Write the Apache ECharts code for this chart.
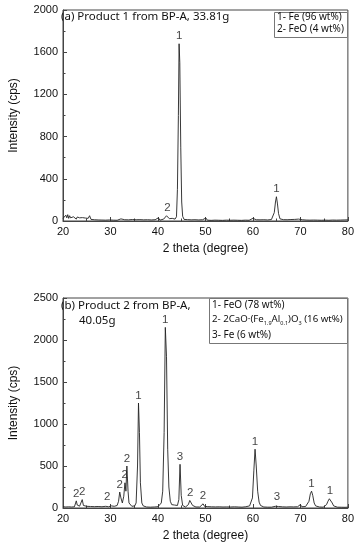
<!DOCTYPE html>
<html><head><meta charset="utf-8">
<script src="https://cdn.jsdelivr.net/npm/echarts@6/dist/echarts.min.js"></script>
<style>html,body{margin:0;padding:0;background:#fff}#c{width:357px;height:550px}</style>
</head><body><div id="c"></div>
<script>
// Product 1 from BP-A (2 theta, intensity cps)
const product1 = [[20,25],[20.2,40],[20.4,20],[20.6,55],[20.8,30],[21,60],[21.2,25],[21.4,50],[21.6,30],[21.8,45],[22,20],[22.2,40],[22.4,25],[22.6,35],[22.8,18],[23,38],[23.2,20],[23.5,30],[23.8,15],[24.1,32],[24.4,18],[24.7,28],[25,14],[25.3,25],[25.6,50],[25.9,15],[26.2,28],[26.6,12],[27,22],[27.4,10],[27.8,18],[28.2,9],[28.6,16],[29,8],[29.4,14],[29.8,10],[30.2,16],[30.6,8],[31,13],[31.4,7],[31.8,15],[32.2,20],[32.6,9],[33,12],[33.4,6],[33.8,11],[34.2,8],[34.6,14],[35,7],[35.4,12],[35.8,9],[36.2,13],[36.6,6],[37,11],[37.4,8],[37.8,12],[38.2,6],[38.6,10],[39,7],[39.4,12],[39.8,9],[40.1,30],[40.4,8],[40.8,12],[41.2,18],[41.5,35],[41.8,50],[42.1,42],[42.4,22],[42.7,15],[43,25],[43.3,38],[43.6,18],[43.9,40],[44.1,300],[44.3,1000],[44.45,1680],[44.6,1500],[44.8,700],[45,180],[45.2,45],[45.5,15],[45.8,10],[46.2,13],[46.6,7],[47,11],[47.4,8],[47.8,12],[48.2,6],[48.6,10],[49,8],[49.4,12],[49.8,7],[50.1,28],[50.4,8],[50.8,11],[51.2,6],[51.6,10],[52,8],[52.4,12],[52.8,7],[53.2,10],[53.6,6],[54,11],[54.4,8],[54.8,12],[55.2,7],[55.6,10],[56,8],[56.4,13],[56.8,7],[57.2,10],[57.6,6],[58,12],[58.4,8],[58.8,11],[59.2,7],[59.6,14],[60,25],[60.3,9],[60.7,12],[61.1,8],[61.5,11],[61.9,7],[62.3,12],[62.7,8],[63.1,10],[63.5,7],[63.9,14],[64.2,25],[64.5,80],[64.75,180],[64.95,230],[65.15,170],[65.4,70],[65.7,20],[66,10],[66.4,13],[66.8,8],[67.2,12],[67.6,7],[68,14],[68.4,9],[68.8,15],[69.2,10],[69.6,18],[70,22],[70.4,12],[70.8,16],[71.2,9],[71.6,13],[72,8],[72.4,12],[72.8,9],[73.2,13],[73.6,8],[74,11],[74.4,7],[74.8,12],[75.2,8],[75.6,11],[76,7],[76.4,13],[76.8,9],[77.2,12],[77.6,8],[78,14],[78.4,9],[78.8,16],[79.2,10],[79.6,14],[80,11]];
// Product 2 from BP-A
const product2 = [[20,15],[20.3,25],[20.6,12],[20.9,22],[21.2,14],[21.5,24],[21.8,12],[22.1,20],[22.4,14],[22.6,30],[22.8,85],[23,35],[23.2,15],[23.5,22],[23.8,30],[24.05,100],[24.3,30],[24.6,15],[25,20],[25.4,12],[25.8,18],[26.2,10],[26.6,16],[27,12],[27.4,18],[27.8,10],[28.2,15],[28.6,12],[29,20],[29.3,40],[29.6,15],[29.9,18],[30.2,25],[30.5,12],[30.8,20],[31.1,15],[31.4,30],[31.7,80],[31.95,190],[32.2,120],[32.5,60],[32.8,140],[33.05,300],[33.25,200],[33.45,500],[33.7,200],[33.9,60],[34.2,40],[34.5,20],[34.8,15],[35.1,25],[35.4,60],[35.7,500],[35.9,1250],[36.1,900],[36.3,300],[36.6,60],[36.9,25],[37.2,15],[37.6,12],[38,18],[38.4,10],[38.8,15],[39.2,12],[39.6,20],[40,15],[40.4,30],[40.7,60],[41,200],[41.3,900],[41.55,2150],[41.8,1800],[42.05,700],[42.3,250],[42.6,80],[42.9,40],[43.2,25],[43.5,35],[43.8,50],[44.1,30],[44.4,100],[44.65,520],[44.9,150],[45.2,30],[45.5,15],[45.8,12],[46.1,20],[46.4,40],[46.7,90],[47,80],[47.3,30],[47.6,15],[48,12],[48.4,18],[48.8,12],[49.2,25],[49.5,50],[49.8,20],[50.1,12],[50.5,16],[50.9,10],[51.3,14],[51.7,9],[52.1,13],[52.5,10],[52.9,14],[53.3,9],[53.7,12],[54.1,10],[54.5,13],[54.9,9],[55.3,12],[55.7,10],[56.1,14],[56.5,20],[56.9,12],[57.3,15],[57.7,10],[58.1,25],[58.5,15],[58.9,12],[59.3,25],[59.6,40],[59.9,120],[60.2,450],[60.45,700],[60.7,500],[61,200],[61.3,70],[61.6,30],[61.9,15],[62.3,12],[62.7,16],[63.1,10],[63.5,14],[63.9,10],[64.3,15],[64.7,20],[65.05,40],[65.4,18],[65.8,10],[66.2,14],[66.6,9],[67,12],[67.4,10],[67.8,14],[68.2,9],[68.6,13],[69,10],[69.4,15],[69.8,12],[70,40],[70.3,15],[70.7,12],[71.1,18],[71.5,30],[71.8,80],[72.1,170],[72.35,200],[72.6,150],[72.9,60],[73.2,25],[73.6,15],[74,12],[74.4,16],[74.8,10],[75.2,20],[75.5,40],[75.8,80],[76.1,110],[76.4,105],[76.7,60],[77,25],[77.4,14],[77.8,10],[78.2,13],[78.6,9],[79,12],[79.4,8],[79.8,11],[80,10]];
// Peak labels [2theta, intensity, phase]
const peaks1 = [[44.45,1680,'1'],[42,50,'2'],[64.95,230,'1']];
const peaks2 = [[22.8,85,'2'],[24.05,100,'2'],[29.3,40,'2'],[31.95,190,'2'],[33.0,300,'2'],[33.45,500,'2'],[35.9,1250,'1'],[41.55,2150,'1'],[44.65,520,'3'],[46.8,90,'2'],[49.5,50,'2'],[60.45,700,'1'],[65.05,40,'3'],[72.35,200,'1'],[76.2,110,'1']];
const xTicks = {min:20, max:80, interval:10};
const y1Ticks = {min:0, max:2000, interval:400};
const y2Ticks = {min:0, max:2500, interval:500};

const axisCol = '#444';
const af = 'Liberation Sans, Arial, sans-serif';
const lblFont = {color:'#111', fontSize:11, fontFamily:af, formatter:v=>String(v)};
function xAx(gi){return {type:'value', gridIndex:gi, min:xTicks.min, max:xTicks.max, interval:xTicks.interval,
  name:'2 theta (degree)', nameLocation:'middle', nameGap:22, nameTextStyle:{fontSize:12, color:'#111', fontFamily:af},
  axisLine:{show:true, onZero:false, lineStyle:{color:axisCol}}, axisTick:{inside:true, length:4, lineStyle:{color:axisCol}},
  minorTick:{show:true, splitNumber:2, length:2.5, lineStyle:{color:axisCol}}, splitLine:{show:false},
  axisLabel:Object.assign({margin:5}, lblFont)};}
function yAx(gi, t){return {type:'value', gridIndex:gi, min:t.min, max:t.max, interval:t.interval,
  name:'Intensity (cps)', nameLocation:'middle', nameGap:43, nameRotate:90, nameTextStyle:{fontSize:12, color:'#111', fontFamily:af},
  axisLine:{show:true, onZero:false, lineStyle:{color:axisCol}}, axisTick:{inside:true, length:4, lineStyle:{color:axisCol}},
  minorTick:{show:true, splitNumber:2, length:2.5, lineStyle:{color:axisCol}}, splitLine:{show:false},
  axisLabel:Object.assign({margin:5}, lblFont)};}
function peakSeries(xi, arr){return {type:'scatter', xAxisIndex:xi, yAxisIndex:xi, symbolSize:1, itemStyle:{color:'rgba(0,0,0,0)'},
  data:arr.map(p=>({value:[p[0],p[1]], name:p[2]})), silent:true,
  label:{show:true, position:'top', distance:1, formatter:p=>p.name, fontSize:11.5, color:'#111', fontFamily:af}};}
const tf = 'Noto Sans, DejaVu Sans, sans-serif';
const chart = echarts.init(document.getElementById('c'));
chart.setOption({
  animation:false, backgroundColor:'#fff',
  grid:[{left:60, top:10, width:288, height:211, show:true, borderColor:axisCol, borderWidth:1},
        {left:60, top:298, width:288, height:210, show:true, borderColor:axisCol, borderWidth:1}],
  xAxis:[xAx(0), xAx(1)],
  yAxis:[yAx(0,y1Ticks), yAx(1,y2Ticks)],
  series:[
    {type:'line', xAxisIndex:0, yAxisIndex:0, data:product1, showSymbol:false, lineStyle:{color:'#222', width:0.9}, silent:true},
    {type:'line', xAxisIndex:1, yAxisIndex:1, data:product2, showSymbol:false, lineStyle:{color:'#222', width:0.9}, silent:true},
    peakSeries(0, peaks1), peakSeries(1, peaks2)
  ],
  graphic:[
    {type:'text', left:61, top:11, style:{text:'(a) Product 1 from BP-A, 33.81g', fontSize:11.5, fontFamily:tf, fill:'#111'}},
    {type:'rect', shape:{x:274.5, y:12.5, width:73, height:25}, style:{fill:'#fff', stroke:'#777', lineWidth:1}},
    {type:'text', left:277, top:12.5, style:{text:'1- Fe (96 wt%)', fontSize:10, fontFamily:tf, fill:'#111'}},
    {type:'text', left:277, top:24.5, style:{text:'2- FeO (4 wt%)', fontSize:10, fontFamily:tf, fill:'#111'}},
    {type:'text', left:61, top:300, style:{text:'(b) Product 2 from BP-A,', fontSize:11.5, fontFamily:tf, fill:'#111'}},
    {type:'text', left:79, top:315, style:{text:'40.05g', fontSize:11.5, fontFamily:tf, fill:'#111'}},
    {type:'rect', shape:{x:209.5, y:298.5, width:138, height:45}, style:{fill:'#fff', stroke:'#777', lineWidth:1}},
    {type:'text', left:212, top:300, style:{text:'1- FeO (78 wt%)', fontSize:10, fontFamily:tf, fill:'#111'}},
    {type:'text', left:212, top:314, style:{text:'{n|2- 2CaO·(Fe}{s|1.9}{n|Al}{s|0.1}{n|)O}{s|3}{n| (16 wt%)}', rich:{n:{fontSize:9.7, fontFamily:tf, fill:'#111', verticalAlign:'bottom', lineHeight:14}, s:{fontSize:5.5, fontFamily:tf, fill:'#111', verticalAlign:'bottom', lineHeight:10, padding:[0,0,-2,0]}}}},
    {type:'text', left:212, top:330, style:{text:'3- Fe (6 wt%)', fontSize:10, fontFamily:tf, fill:'#111'}}
  ]
});
</script></body></html>
